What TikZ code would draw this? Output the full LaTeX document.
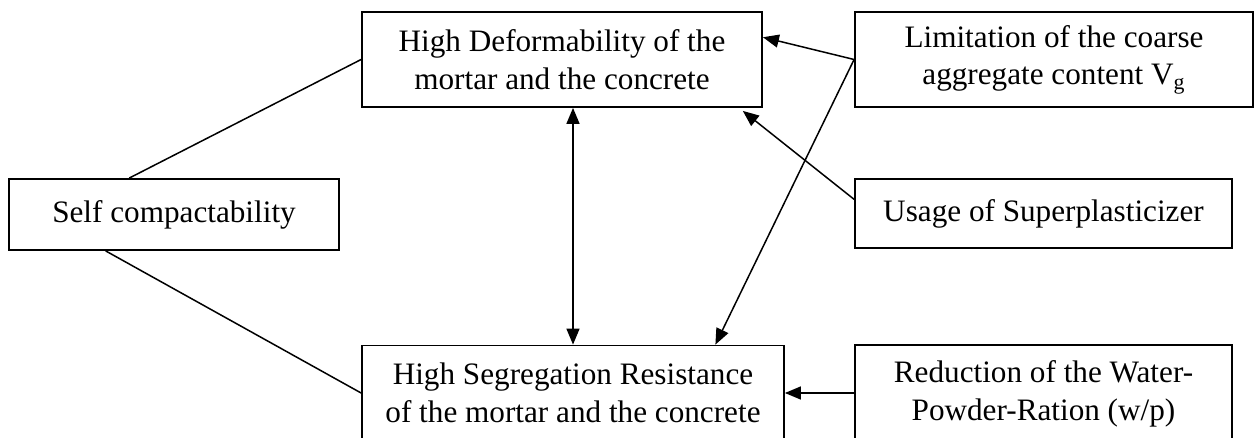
\documentclass[tikz,border=0pt]{standalone}
\usepackage{fontspec}
\setmainfont{Liberation Serif}
\usetikzlibrary{arrows.meta,calc}
\begin{document}
\begin{tikzpicture}[x=0.5pt,y=-0.5pt,
  box/.style={draw,line width=0.9pt,inner sep=0pt,align=center,
    font=\fontsize{15.6}{18.8}\selectfont},
  conn/.style={line width=0.75pt},
  arr/.style={line width=0.75pt,-{Triangle[length=8pt,width=6.5pt]}},
  darr/.style={line width=0.75pt,{Triangle[length=8pt,width=6.5pt]}-{Triangle[length=8pt,width=6.5pt]}}]
\useasboundingbox (0,0) rectangle (1254,438);
\node[box,minimum width=165pt,minimum height=35.5pt] (self) at (174,214.5) {Self compactability};
\node[box,minimum width=200pt,minimum height=47.5pt] (hd) at (562,59.5) {High Deformability of the\\mortar and the concrete};
\node[box,minimum width=211pt,minimum height=47.5pt] (hs) at (573,393) {High Segregation Resistance\\of the mortar and the concrete};
\node[box,minimum width=199pt,minimum height=47.5pt] (lim) at (1054,59.5) {Limitation of the coarse\\aggregate content V\textsubscript{g}};
\node[box,minimum width=188.5pt,minimum height=34.5pt] (use) at (1043.5,213.5) {Usage of Superplasticizer};
\node[box,minimum width=188.5pt,minimum height=49pt] (red) at (1043.5,394) {Reduction of the Water-\\Powder-Ration (w/p)};
\draw[conn] ($(self.north west)!0.365!(self.north east)$) -- (hd.west);
\draw[conn] ($(self.south west)!0.294!(self.south east)$) -- (hs.west);
\draw[darr] (hs.north |- hd.south) -- (hs.north);
\draw[arr] (lim.west) -- ($(hd.north east)!0.27!(hd.south east)$);
\draw[arr] (lim.west) -- ($(hs.north west)!0.836!(hs.north east)$);
\draw[arr] ($(use.north west)!0.3!(use.south west)$) -- ($(hd.south west)!0.95!(hd.south east)+(0,3)$);
\draw[arr] (red.west |- hs.west) -- (hs.east);
\end{tikzpicture}
\end{document}
